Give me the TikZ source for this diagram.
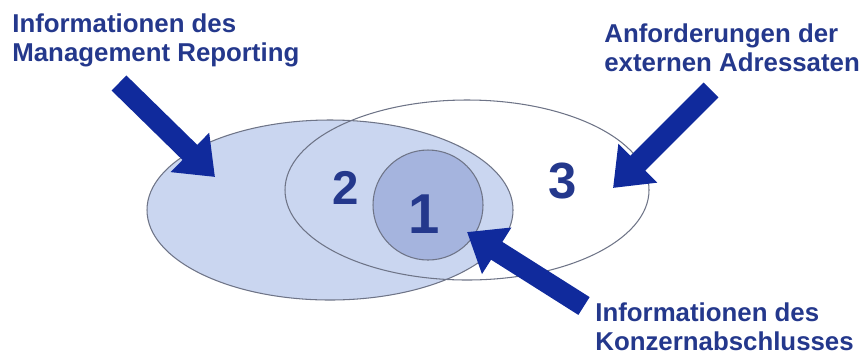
\documentclass[tikz,border=0pt]{standalone}
\usepackage{fontspec}
\setmainfont{Liberation Sans}
\usetikzlibrary{arrows.meta}

\definecolor{textblau}{RGB}{36,56,140}
\definecolor{pfeilblau}{RGB}{16,42,156}
\definecolor{hellblau}{RGB}{202,214,240}
\definecolor{kreisblau}{RGB}{165,180,222}
\definecolor{randgrau}{RGB}{110,116,135}

\begin{document}
\begin{tikzpicture}[x=0.02cm, y=-0.02cm,
    beschriftung/.style={font=\fontsize{14.7}{17}\selectfont\bfseries, text=textblau,
        align=left, anchor=north west, inner sep=0pt},
    zahl/.style={text=textblau, inner sep=0pt},
    rand/.style={draw=randgrau, line width=0.6pt},
    blockpfeil/.style={draw=pfeilblau, line width=12pt,
        -{Triangle[width=30pt, length=20pt]}}]
    % Bildausschnitt festlegen
    \useasboundingbox (0, 0) rectangle (864, 356);

    % 1. Ellipsen und Kreis
    \draw[rand, fill=hellblau] (330, 210) ellipse [x radius=183, y radius=90];
    \draw[rand] (467, 190) ellipse [x radius=182, y radius=90];
    \draw[rand, fill=kreisblau] (428, 205) circle [radius=55];

    % 2. Nummern der Bereiche
    \node[zahl, font=\fontsize{27}{27}\selectfont\bfseries] (zwei) at (346, 188) {2};
    \node[zahl, font=\fontsize{32}{32}\selectfont\bfseries] (eins) at (424, 214) {1};
    \node[zahl, font=\fontsize{29}{29}\selectfont\bfseries] (drei) at (563, 181) {3};

    % 3. Beschriftungen
    \node[beschriftung] (infoMR) at (12, 13) {Informationen des\\Management Reporting};
    \node[beschriftung] (anfExt) at (604, 23) {Anforderungen der\\externen Adressaten};
    \node[beschriftung] (infoKA) at (595, 302) {Informationen des\\Konzernabschlusses};

    % 4. Pfeile
    \coordinate (mrStart) at (119, 83);
    \coordinate (mrZiel) at (215, 177);
    \coordinate (extStart) at (711, 90);
    \coordinate (extZiel) at (613, 188);
    \coordinate (kaStart) at (584, 306);
    \coordinate (kaZiel) at (467, 232);
    \draw[blockpfeil] (mrStart) -- (mrZiel);
    \draw[blockpfeil] (extStart) -- (extZiel);
    \draw[blockpfeil] (kaStart) -- (kaZiel);
\end{tikzpicture}
\end{document}
